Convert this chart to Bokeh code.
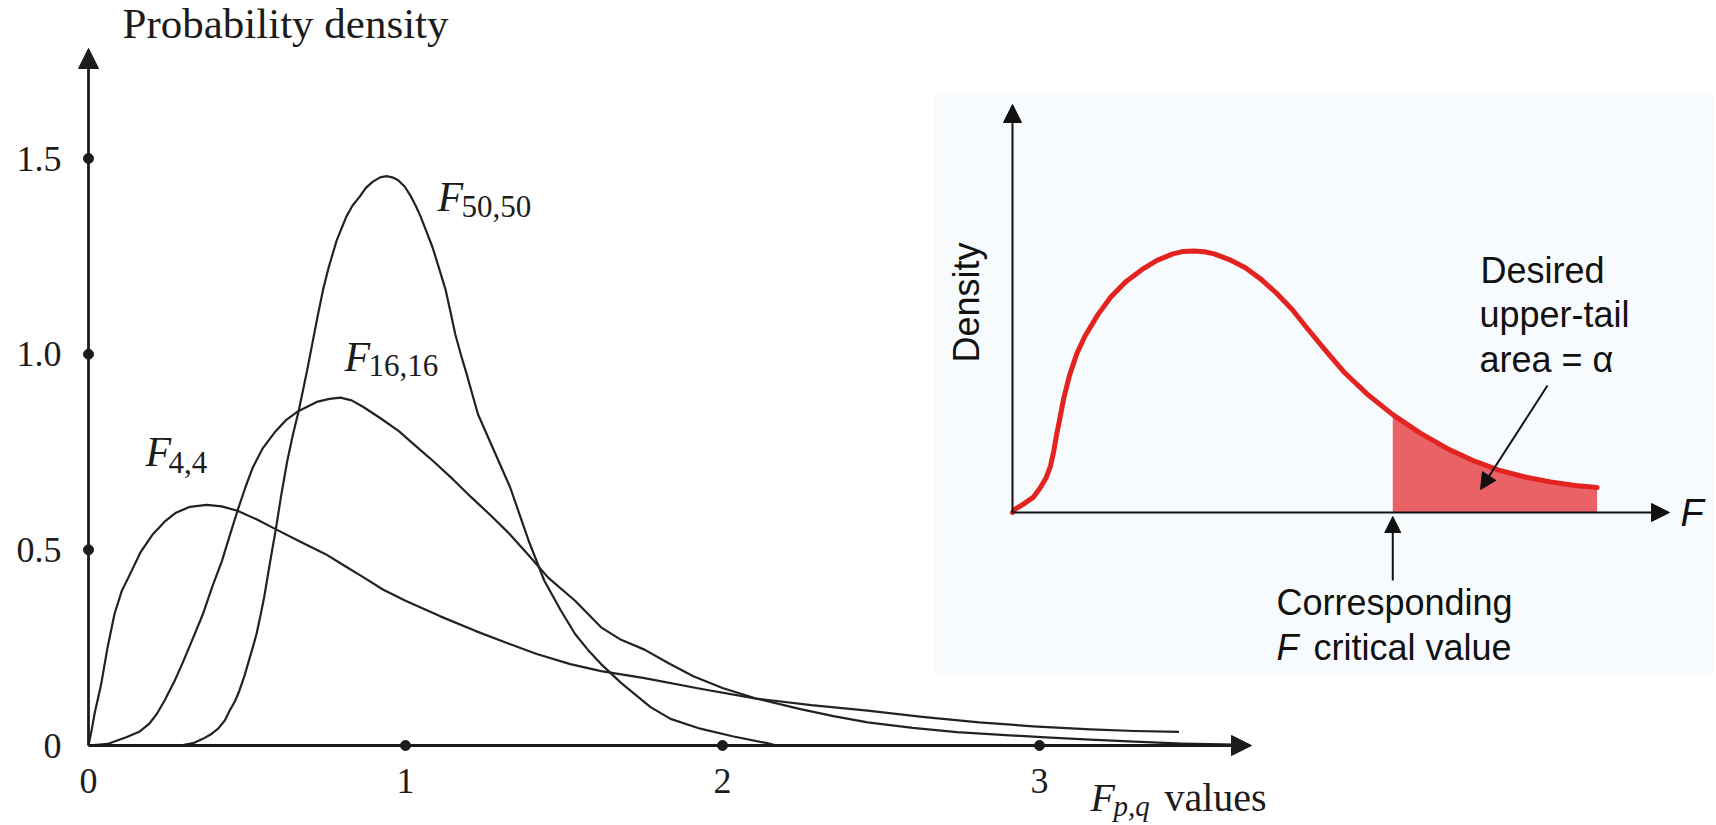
import math
from bokeh.plotting import figure
from bokeh.models import Range1d, FixedTicker, Arrow, NormalHead, Label
from bokeh.core.properties import value
from bokeh.embed import file_html
from bokeh.resources import INLINE

# ---------------- data ----------------
f44_x = [0, 0.01, 0.02, 0.03, 0.04, 0.06, 0.082, 0.105, 0.131, 0.165, 0.203, 0.24, 0.276,
         0.32, 0.373, 0.42, 0.47, 0.53, 0.59, 0.67, 0.748, 0.81, 0.869, 0.93, 1.0, 1.11,
         1.22, 1.32, 1.414, 1.52, 1.617, 1.754, 1.93, 2.106, 2.28, 2.458, 2.63, 2.81, 2.98,
         3.16, 3.3, 3.44]
f44_y = [0, 0.04, 0.085, 0.12, 0.157, 0.25, 0.336, 0.395, 0.438, 0.495, 0.54, 0.572, 0.595,
         0.61, 0.615, 0.611, 0.60, 0.578, 0.553, 0.52, 0.489, 0.458, 0.429, 0.398, 0.37, 0.33,
         0.293, 0.262, 0.234, 0.208, 0.19, 0.172, 0.145, 0.12, 0.103, 0.089, 0.073, 0.059,
         0.049, 0.041, 0.037, 0.035]

f1616_x = [0, 0.06, 0.119, 0.16, 0.191, 0.215, 0.24, 0.27, 0.3, 0.33, 0.361, 0.39, 0.421,
           0.445, 0.47, 0.495, 0.518, 0.55, 0.591, 0.625, 0.663, 0.72, 0.76, 0.795, 0.83,
           0.867, 0.92, 0.978, 1.03, 1.087, 1.15, 1.208, 1.27, 1.329, 1.39, 1.45, 1.535,
           1.617, 1.68, 1.754, 1.83, 1.908, 2.0, 2.106, 2.246, 2.35, 2.458, 2.6, 2.739, 2.88,
           3.02, 3.16, 3.30, 3.45, 3.62]
f1616_y = [0, 0.004, 0.021, 0.035, 0.055, 0.08, 0.115, 0.162, 0.217, 0.275, 0.336, 0.405,
           0.472, 0.535, 0.6, 0.66, 0.71, 0.76, 0.804, 0.833, 0.855, 0.878, 0.886, 0.889,
           0.882, 0.865, 0.837, 0.804, 0.767, 0.727, 0.68, 0.634, 0.587, 0.54, 0.485, 0.429,
           0.37, 0.302, 0.27, 0.245, 0.21, 0.177, 0.147, 0.12, 0.093, 0.075, 0.059, 0.045,
           0.034, 0.027, 0.021, 0.015, 0.01, 0.005, 0.002]

f5050_x = [0.29, 0.33, 0.361, 0.385, 0.409, 0.43, 0.445, 0.462, 0.476, 0.492, 0.506, 0.518,
           0.53, 0.542, 0.554, 0.572, 0.591, 0.608, 0.627, 0.645, 0.663, 0.69, 0.722, 0.74,
           0.758, 0.783, 0.813, 0.833, 0.855, 0.875, 0.897, 0.92, 0.94, 0.958, 0.976, 0.998,
           1.018, 1.033, 1.048, 1.065, 1.085, 1.105, 1.127, 1.142, 1.157, 1.175, 1.193, 1.211,
           1.229, 1.28, 1.33, 1.39, 1.438, 1.49, 1.535, 1.575, 1.617, 1.68, 1.773, 1.836,
           1.93, 2.035, 2.141, 2.17, 2.51]
f5050_y = [0, 0.006, 0.017, 0.028, 0.043, 0.064, 0.089, 0.113, 0.14, 0.178, 0.217, 0.25,
           0.285, 0.33, 0.378, 0.465, 0.553, 0.64, 0.727, 0.795, 0.855, 0.96, 1.094, 1.165,
           1.223, 1.291, 1.351, 1.38, 1.402, 1.425, 1.441, 1.452, 1.455, 1.452, 1.445, 1.428,
           1.402, 1.378, 1.351, 1.316, 1.274, 1.222, 1.163, 1.108, 1.051, 0.998, 0.949, 0.897,
           0.846, 0.752, 0.66, 0.52, 0.421, 0.345, 0.285, 0.245, 0.208, 0.16, 0.098, 0.068,
           0.043, 0.023, 0.006, 0.0, 0.0]

x_ticks = [0, 1, 2, 3]
x_tick_labels = ["0", "1", "2", "3"]
y_ticks = [0, 0.5, 1.0, 1.5]
y_tick_labels = ["0", "0.5", "1.0", "1.5"]

# inset (schematic F density, arbitrary units)
inset_x = [0, 0.02, 0.08, 0.157, 0.21, 0.256, 0.29, 0.315, 0.335, 0.354, 0.39, 0.433, 0.49,
           0.551, 0.65, 0.748, 0.86, 0.984, 1.1, 1.22, 1.3, 1.378, 1.46, 1.535, 1.65, 1.772,
           1.89, 2.008, 2.13, 2.244, 2.38, 2.52, 2.7, 2.894, 3.1, 3.307, 3.5, 3.70, 3.9,
           4.094, 4.28, 4.449]
inset_y = [0, 0.008, 0.02, 0.037, 0.06, 0.085, 0.115, 0.152, 0.19, 0.22, 0.28, 0.335, 0.39,
           0.432, 0.485, 0.528, 0.565, 0.595, 0.618, 0.634, 0.64, 0.641, 0.639, 0.634, 0.62,
           0.60, 0.572, 0.538, 0.497, 0.451, 0.398, 0.345, 0.29, 0.24, 0.195, 0.157, 0.128,
           0.104, 0.087, 0.075, 0.066, 0.061]
crit_value = 2.894
inset_axis_len = [5.0, 1.0]

# ---------------- layout (pixel geometry of the page) ----------------
W, H = 1714, 823
FL, FR, FT, FB = 72, W, 0, H               # frame edges in page pixels
X0, XU, Y0, YU = 88, 317.0, 745, 391.3     # main axes origin / px per unit
IX0, IXU, IY0, IYU = 1012, 131.4, 512, 408.0  # inset origin / px per unit
BASE_K = 0.31   # alphabetic-baseline correction, fraction of the font size


def mx(px):
    return (px - X0) / XU


def my(py):
    return (Y0 - py) / YU


def ix(px):
    return (px - IX0) / IXU


def iy(py):
    return (IY0 - py) / IYU


p = figure(width=W, height=H, output_backend="svg", toolbar_location=None,
           x_range=Range1d(mx(FL), mx(FR)), y_range=Range1d(my(FB), my(FT)),
           min_border_left=FL, min_border_right=0, min_border_top=0, min_border_bottom=0)
p.extra_x_ranges = {"inset": Range1d(ix(FL), ix(FR))}
p.extra_y_ranges = {"inset": Range1d(iy(FB), iy(FT))}

p.outline_line_color = None
p.background_fill_color = "white"
p.border_fill_color = "white"
p.xgrid.visible = False
p.ygrid.visible = False
p.xaxis.visible = False

SERIF = "Liberation Serif"
SANS = "Liberation Sans"
INK = "#1c1c1c"

ax = p.yaxis
ax.ticker = FixedTicker(ticks=y_ticks)
ax.major_label_overrides = {t: l for t, l in zip(y_ticks, y_tick_labels)}
ax.axis_line_color = None
ax.major_tick_line_color = None
ax.minor_tick_line_color = None
ax.major_label_text_font = SERIF
ax.major_label_text_font_size = "36px"
ax.major_label_text_color = INK
ax.major_label_standoff = 5

# x tick labels (the frame reaches the page bottom so that the x label fits)
p.text(x=x_ticks, y=[my(792 - BASE_K * 36)] * len(x_ticks), text=x_tick_labels,
       text_align="center", text_baseline="alphabetic", text_font=value(SERIF),
       text_font_size=value("36px"), text_color=INK)

# ---------------- inset background ----------------
p.quad(left=ix(933), right=ix(1760), bottom=iy(675), top=iy(92), fill_color="#f8fbfd",
       line_color=None, x_range_name="inset", y_range_name="inset", level="underlay")

# ---------------- main chart ----------------
for xs, ys in ((f44_x, f44_y), (f1616_x, f1616_y), (f5050_x, f5050_y)):
    p.line(xs, ys, line_color="#222222", line_width=2.2, line_join="round")

p.add_layout(Arrow(end=NormalHead(size=20, fill_color=INK, line_color=INK),
                   x_start=0, y_start=0, x_end=0, y_end=my(48),
                   line_width=2.8, line_color=INK))
p.add_layout(Arrow(end=NormalHead(size=20, fill_color=INK, line_color=INK),
                   x_start=0, y_start=0, x_end=mx(1251), y_end=0,
                   line_width=2.8, line_color=INK))
p.scatter(x_ticks[1:], [0] * (len(x_ticks) - 1), size=10, color=INK)
p.scatter([0] * (len(y_ticks) - 1), y_ticks[1:], size=10, color=INK)


def mlabel(x_px, base_px, text, size, style="normal"):
    p.add_layout(Label(x=mx(x_px), y=my(base_px - BASE_K * size), text=text, text_font=SERIF,
                       text_font_size=f"{size}px", text_font_style=style,
                       text_color=INK, text_baseline="alphabetic"))


mlabel(122, 36, "Probability density", 43)


def sub_label(x_px, base_px, main, sub, size_main, size_sub, sub_dx, sub_drop,
              sub_italic=False):
    mlabel(x_px, base_px, main, size_main, "italic")
    mlabel(x_px + sub_dx, base_px + sub_drop, sub, size_sub,
           "italic" if sub_italic else "normal")


sub_label(437, 210, "F", "50,50", 42, 31, 24, 6)
sub_label(344, 370, "F", "16,16", 42, 31, 24, 5)
sub_label(145, 465, "F", "4,4", 42, 31, 23, 7)
sub_label(1090, 809, "F", "p,q", 40, 29, 23, 5, sub_italic=True)
mlabel(1164, 809, "values", 40)

# ---------------- inset ----------------
RED = "#e2231f"
shade_x = [x for x in inset_x if x >= crit_value]
shade_y = [y for x, y in zip(inset_x, inset_y) if x >= crit_value]
p.varea(x=shade_x, y1=0, y2=shade_y, fill_color="#e95a5e", fill_alpha=0.95,
        x_range_name="inset", y_range_name="inset")
p.line(inset_x, inset_y, line_color=RED, line_width=5, line_join="round", line_cap="round",
       x_range_name="inset", y_range_name="inset")

BLK = "#111111"
p.add_layout(Arrow(end=NormalHead(size=18, fill_color=BLK, line_color=BLK),
                   x_start=0, y_start=0, x_end=0, y_end=inset_axis_len[1],
                   line_width=2, line_color=BLK, x_range_name="inset", y_range_name="inset"))
p.add_layout(Arrow(end=NormalHead(size=18, fill_color=BLK, line_color=BLK),
                   x_start=0, y_start=0, x_end=inset_axis_len[0], y_end=0,
                   line_width=2, line_color=BLK, x_range_name="inset", y_range_name="inset"))
p.add_layout(Arrow(end=NormalHead(size=16, fill_color=BLK, line_color=BLK),
                   x_start=crit_value, y_start=iy(580), x_end=crit_value, y_end=iy(516),
                   line_width=2, line_color=BLK, x_range_name="inset", y_range_name="inset"))
p.add_layout(Arrow(end=NormalHead(size=16, fill_color=BLK, line_color=BLK),
                   x_start=ix(1547), y_start=iy(385), x_end=ix(1480), y_end=iy(489),
                   line_width=2, line_color=BLK, x_range_name="inset", y_range_name="inset"))


def ilabel(x_px, y_px, text, size=36, style="normal", align="left", baseline="alphabetic",
           angle=0.0):
    if baseline == "alphabetic":
        y_px = y_px - BASE_K * size
    p.add_layout(Label(x=ix(x_px), y=iy(y_px), text=text, text_font=SANS,
                       text_font_size=f"{size}px", text_font_style=style, text_color=BLK,
                       text_align=align, text_baseline=baseline, angle=angle,
                       x_range_name="inset", y_range_name="inset"))


ilabel(966, 302, "Density", align="center", baseline="middle", angle=math.pi / 2)
ilabel(1680, 512, "F", size=38, style="italic", baseline="middle")
ilabel(1480, 281, "Desired")
ilabel(1479, 325, "upper-tail")
ilabel(1479, 370, "area = α")
ilabel(1276, 613, "Corresponding")
ilabel(1276, 658, "F", style="italic")
ilabel(1313, 658, "critical value")

open("out.html", "w").write(file_html(p, INLINE))
